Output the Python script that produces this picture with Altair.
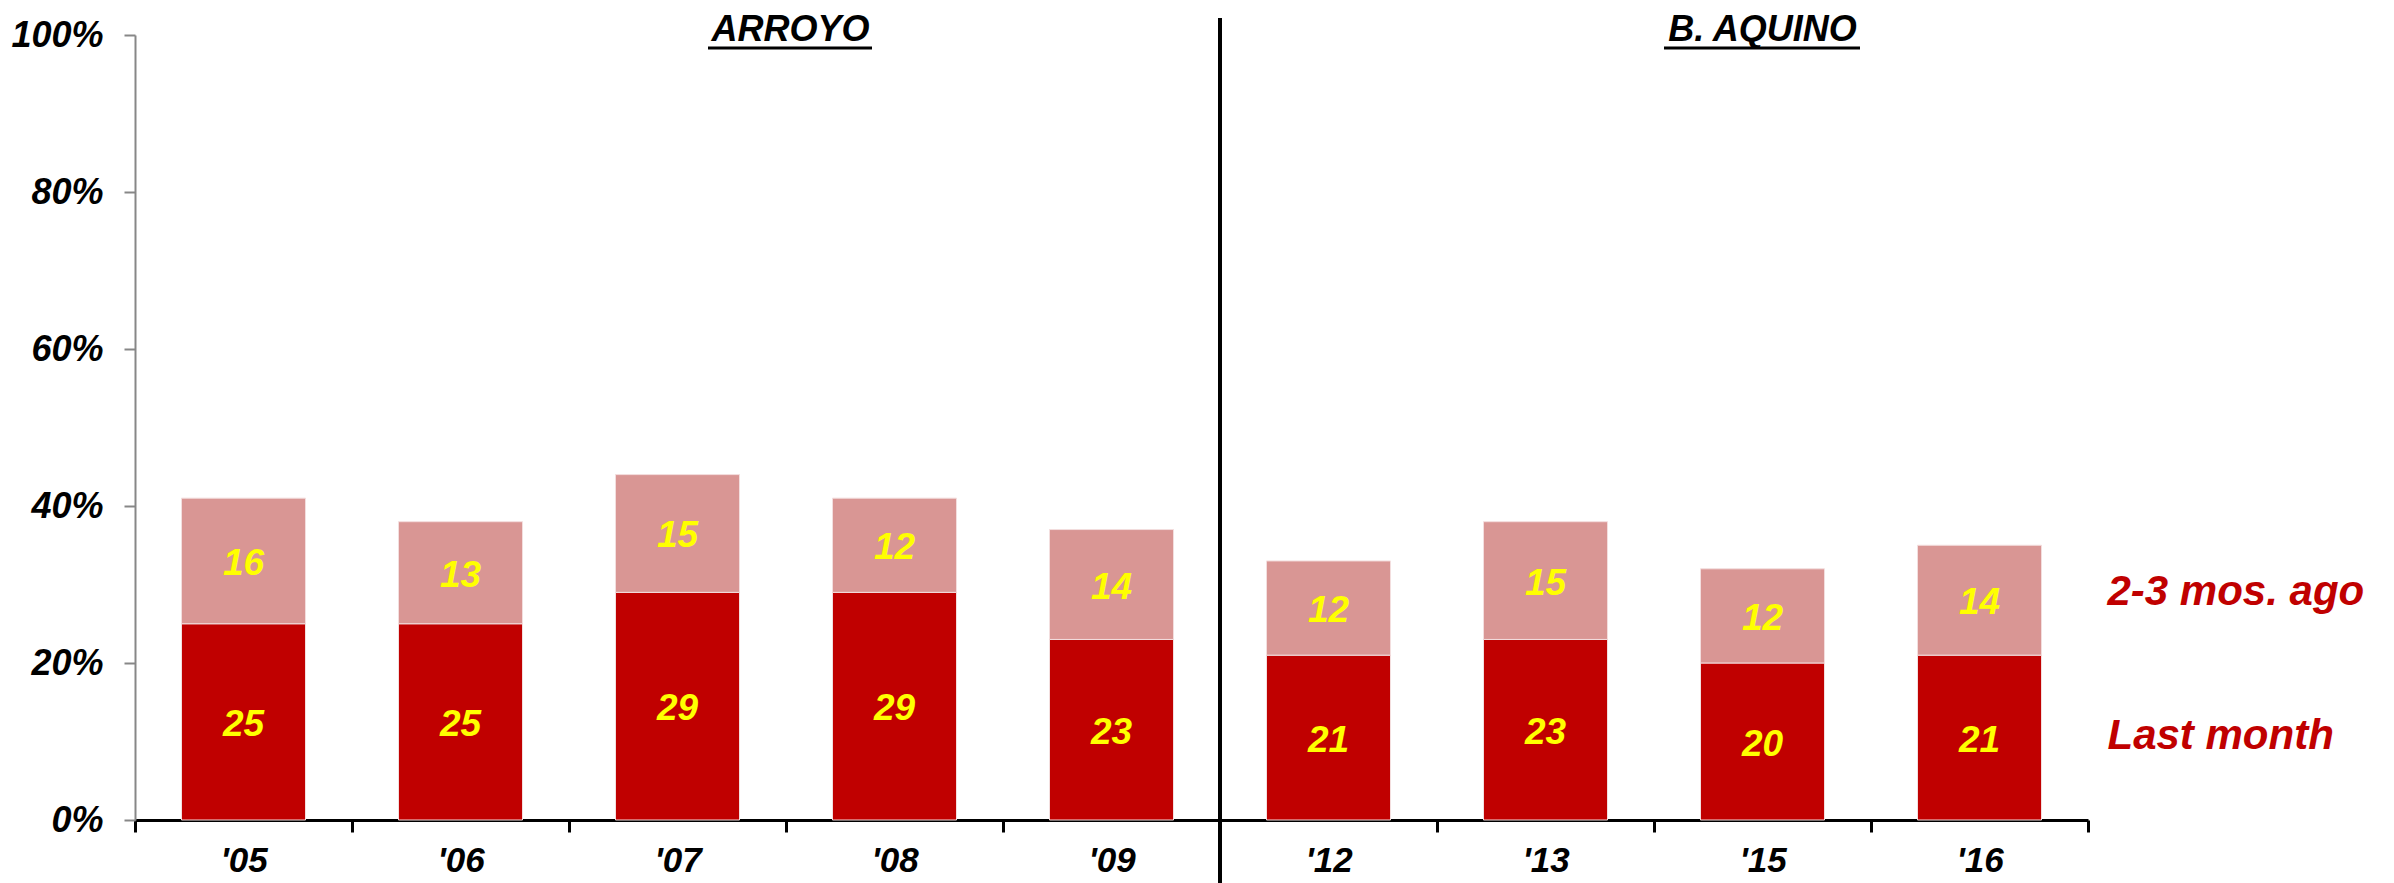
import altair as alt
import pandas as pd

years = ["'05", "'06", "'07", "'08", "'09", "'12", "'13", "'15", "'16"]
last_month = [25, 25, 29, 29, 23, 21, 23, 20, 21]
two_three_ago = [16, 13, 15, 12, 14, 12, 15, 12, 14]
series_names = ["Last month", "2-3 mos. ago"]
series_colors = ["#C00000", "#D99694"]
y_ticks = [0, 20, 40, 60, 80, 100]
admin_titles = ["ARROYO", "B. AQUINO"]

FONT = "Liberation Sans"

rows = []
for i, yr in enumerate(years):
    lo = 0
    for name, vals in zip(series_names, [last_month, two_three_ago]):
        v = vals[i]
        rows.append({"year": yr, "series": name, "value": v, "lo": lo, "hi": lo + v,
                     "mid": lo + v / 2})
        lo += v
df = pd.DataFrame(rows)

xscale = alt.Scale(domain=years, paddingInner=0, paddingOuter=0)
yscale = alt.Scale(domain=[0, 100], nice=False)
cscale = alt.Scale(domain=series_names, range=series_colors)

x_enc = alt.X("year:N", scale=xscale, sort=years, title=None,
              axis=alt.Axis(tickBand="extent", labelAngle=0, domainColor="black",
                            domainWidth=3, tickColor="black", tickWidth=3, tickSize=12,
                            labelFont=FONT, labelFontSize=35, labelFontStyle="italic",
                            labelFontWeight="bold", labelColor="black", labelPadding=11))
y_enc = alt.Y("lo:Q", scale=yscale, title=None,
              axis=alt.Axis(values=y_ticks, labelExpr="datum.value + '%'", grid=False,
                            domainColor="#878787", domainWidth=2, tickColor="#878787",
                            tickWidth=2, tickSize=11, labelFont=FONT, labelFontSize=36,
                            labelFontStyle="italic", labelFontWeight="bold",
                            labelColor="black", labelPadding=21))

base = alt.Chart(df)

bars = base.mark_bar(width=124, stroke="#f3dede", strokeWidth=1).encode(
    x=x_enc,
    y=y_enc,
    y2="hi:Q",
    color=alt.Color("series:N", scale=cscale, legend=None),
)

labels = base.mark_text(font=FONT, fontSize=37, fontStyle="italic", fontWeight="bold",
                        color="#FFFF00", baseline="middle", dy=3).encode(
    x=alt.X("year:N", scale=xscale, sort=years),
    y=alt.Y("mid:Q", scale=yscale),
    text="value:Q",
)

leg_df = df[df["year"] == years[-1]]
legend_last = alt.Chart(leg_df[leg_df["series"] == series_names[0]]).mark_text(
    font=FONT, fontSize=42, fontStyle="italic", fontWeight="bold", color="#C00000",
    align="left", baseline="middle", dx=128, dy=-2).encode(
    x=alt.X("year:N", scale=xscale, sort=years),
    y=alt.Y("mid:Q", scale=yscale),
    text="series:N",
)
legend_prev = alt.Chart(leg_df[leg_df["series"] == series_names[1]]).mark_text(
    font=FONT, fontSize=42, fontStyle="italic", fontWeight="bold", color="#C00000",
    align="left", baseline="middle", dx=128, dy=-8).encode(
    x=alt.X("year:N", scale=xscale, sort=years),
    y=alt.Y("mid:Q", scale=yscale),
    text="series:N",
)

divider_df = pd.DataFrame({"year": [years[5]]})
divider = alt.Chart(divider_df).mark_rule(color="black", strokeWidth=4).encode(
    x=alt.X("year:N", scale=xscale, sort=years, bandPosition=0),
    y=alt.value(-17),
    y2=alt.value(860),
)

title_df = pd.DataFrame({"year": ["'07", "'15"], "title": admin_titles})
t1 = alt.Chart(title_df.iloc[[0]]).mark_text(
    font=FONT, fontSize=36, fontStyle="italic", fontWeight="bold", color="black",
    baseline="alphabetic", dx=113).encode(
    x=alt.X("year:N", scale=xscale, sort=years), y=alt.value(6), text="title:N")
t2 = alt.Chart(title_df.iloc[[1]]).mark_text(
    font=FONT, fontSize=36, fontStyle="italic", fontWeight="bold", color="black",
    baseline="alphabetic", dx=0).encode(
    x=alt.X("year:N", scale=xscale, sort=years), y=alt.value(6), text="title:N")

u1 = alt.Chart(title_df.iloc[[0]]).mark_rule(color="black", strokeWidth=3).encode(
    x=alt.value(573), x2=alt.value(737), y=alt.value(13))
u2 = alt.Chart(title_df.iloc[[1]]).mark_rule(color="black", strokeWidth=3).encode(
    x=alt.value(1529), x2=alt.value(1725), y=alt.value(13))

chart = alt.layer(bars, labels, legend_last, legend_prev, divider, t1, t2, u1, u2).properties(
    width=1953, height=785,
    autosize=alt.AutoSizeParams(type="none"),
    padding={"left": 127, "top": 27, "right": 290, "bottom": 66},
).configure(background="white").configure_view(stroke=None)

chart.save("out.html", embed_options={"renderer": "svg", "actions": False})
